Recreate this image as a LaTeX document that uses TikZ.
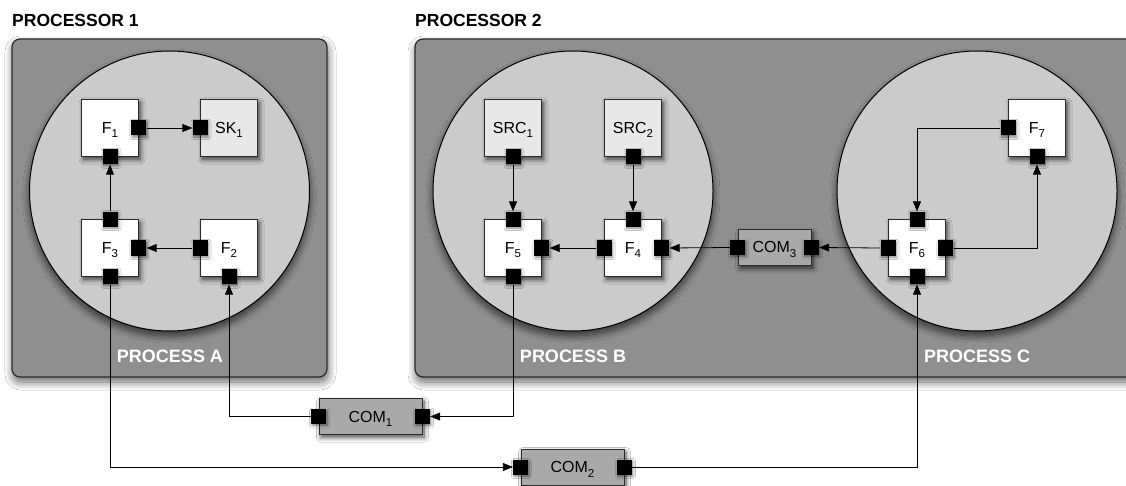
\documentclass[tikz,border=0pt]{standalone}
\usepackage{fontspec}
\setmainfont{Liberation Sans}
\usetikzlibrary{arrows.meta,shadows.blur}
\definecolor{procgray}{HTML}{8F8F8F}
\definecolor{circgray}{HTML}{CBCBCB}
\definecolor{srcgray}{HTML}{E8E8E8}
\definecolor{comgray}{HTML}{A9A9A9}
\definecolor{edgegray}{HTML}{2A2A2A}
\newcommand\lsub[1]{\raisebox{-4.5pt}{\fontsize{11.5}{11.5}\selectfont #1}}
\begin{document}
\begin{tikzpicture}[x=1pt,y=-1pt,
  proc/.style={draw=edgegray, line width=1.2pt, fill=procgray, rounded corners=8pt,
    blur shadow={shadow xshift=1pt, shadow yshift=-5pt, shadow blur radius=8pt, shadow blur steps=12, shadow opacity=60}},
  circ/.style={circle, draw=black, line width=1pt, fill=circgray, minimum size=280pt, inner sep=0pt,
    blur shadow={shadow xshift=0pt, shadow yshift=-5pt, shadow blur radius=7pt, shadow blur steps=12, shadow opacity=65}},
  fbox/.style={draw=edgegray, line width=0.9pt, fill=white, minimum width=57pt, minimum height=57pt, inner sep=0pt,
    font=\fontsize{16}{16}\selectfont, text height=11pt, text depth=0pt,
    blur shadow={shadow xshift=2pt, shadow yshift=-3pt, shadow blur radius=4.5pt, shadow blur steps=10, shadow opacity=70}},
  sbox/.style={fbox, fill=srcgray},
  combox/.style={draw=edgegray, line width=0.9pt, fill=comgray, minimum height=36pt, inner sep=0pt,
    font=\fontsize{16}{16}\selectfont, text height=11pt, text depth=0pt,
    blur shadow={shadow xshift=2pt, shadow yshift=-3pt, shadow blur radius=4.5pt, shadow blur steps=10, shadow opacity=70}},
  port/.style={fill=black, draw=none, minimum size=15pt, inner sep=0pt,
    blur shadow={shadow xshift=1pt, shadow yshift=-1.5pt, shadow blur radius=2.5pt, shadow blur steps=6, shadow opacity=50}},
  plabel/.style={font=\fontsize{17.5}{17.5}\selectfont\bfseries, anchor=base west, inner sep=0pt},
  clabel/.style={font=\fontsize{18}{18}\selectfont\bfseries, anchor=base, text=white, inner sep=0pt},
  conn/.style={draw=black, line width=0.8pt},
  arr/.style={conn, -{Triangle[length=10pt,width=8pt]}}
]
\useasboundingbox (0,0) rectangle (1126,486);
\clip (0,0) rectangle (1126,486);
\fill[white] (0,0) rectangle (1126,486);

% processors
\path[proc] (12,39) rectangle (327,377);
\path[proc] (415,39) rectangle (1150,377);
\node[plabel] (p1) at (12,27) {PROCESSOR 1};
\node[plabel] (p2) at (415,27) {PROCESSOR 2};

% processes
\node[circ] (cA) at (169.5,191) {};
\node[circ] (cB) at (573,191) {};
\node[circ] (cC) at (977,191) {};
\node[clabel] (lA) at (170,362) {PROCESS A};
\node[clabel] (lB) at (573,362) {PROCESS B};
\node[clabel] (lC) at (977,362) {PROCESS C};

% boxes
\node[fbox] (F1) at (110,128) {F\lsub{1}};
\node[sbox] (SK1) at (229,128) {SK\lsub{1}};
\node[fbox] (F3) at (110,248) {F\lsub{3}};
\node[fbox] (F2) at (229,248) {F\lsub{2}};
\node[sbox] (SRC1) at (513,128) {SRC\lsub{1}};
\node[sbox] (SRC2) at (633,128) {SRC\lsub{2}};
\node[fbox] (F5) at (513,248) {F\lsub{5}};
\node[fbox] (F4) at (633,248) {F\lsub{4}};
\node[fbox] (F7) at (1037,128) {F\lsub{7}};
\node[fbox] (F6) at (917,248) {F\lsub{6}};
\node[combox, minimum width=73pt] (C3) at (774.5,247.5) {COM\lsub{3}};
\node[combox, minimum width=103pt] (C1) at (370.5,416.5) {COM\lsub{1}};
\node[combox, minimum width=103pt] (C2) at (572.5,467) {COM\lsub{2}};

% ports
\node[port] (F1e) at (F1.east) {};
\node[port] (F1s) at (F1.south) {};
\node[port] (SK1w) at (SK1.west) {};
\node[port] (F3n) at (F3.north) {};
\node[port] (F3e) at (F3.east) {};
\node[port] (F3s) at (F3.south) {};
\node[port] (F2w) at (F2.west) {};
\node[port] (F2s) at (F2.south) {};
\node[port] (SRC1s) at (SRC1.south) {};
\node[port] (SRC2s) at (SRC2.south) {};
\node[port] (F5n) at (F5.north) {};
\node[port] (F5e) at (F5.east) {};
\node[port] (F5s) at (F5.south) {};
\node[port] (F4n) at (F4.north) {};
\node[port] (F4w) at (F4.west) {};
\node[port] (F4e) at (F4.east) {};
\node[port] (F7w) at (F7.west) {};
\node[port] (F7s) at (F7.south) {};
\node[port] (F6n) at (F6.north) {};
\node[port] (F6w) at (F6.west) {};
\node[port] (F6e) at (F6.east) {};
\node[port] (F6s) at (F6.south) {};
\node[port] (C3w) at (C3.west) {};
\node[port] (C3e) at (C3.east) {};
\node[port] (C1w) at (C1.west) {};
\node[port] (C1e) at (C1.east) {};
\node[port] (C2w) at (C2.west) {};
\node[port] (C2e) at (C2.east) {};

% connectors
\draw[arr] (F1e.east) -- (SK1w.west);
\draw[arr] (F3n.north) -- (F1s.south);
\draw[arr] (F2w.west) -- (F3e.east);
\draw[arr] (F3s.south) |- (C2w.west);
\draw[arr] (C1w.west) -| (F2s.south);
\draw[arr] (F5s.south) |- (C1e.east);
\draw[arr] (SRC1s.south) -- (F5n.north);
\draw[arr] (SRC2s.south) -- (F4n.north);
\draw[arr] (F4w.west) -- (F5e.east);
\draw[arr] (C3w.west) -- (F4e.east);
\draw[arr] (F6w.west) -- (C3e.east);
\draw[arr] (F6e.east) -| (F7s.south);
\draw[arr] (F7w.west) -| (F6n.north);
\draw[arr] (C2e.east) -| (F6s.south);
\end{tikzpicture}
\end{document}
